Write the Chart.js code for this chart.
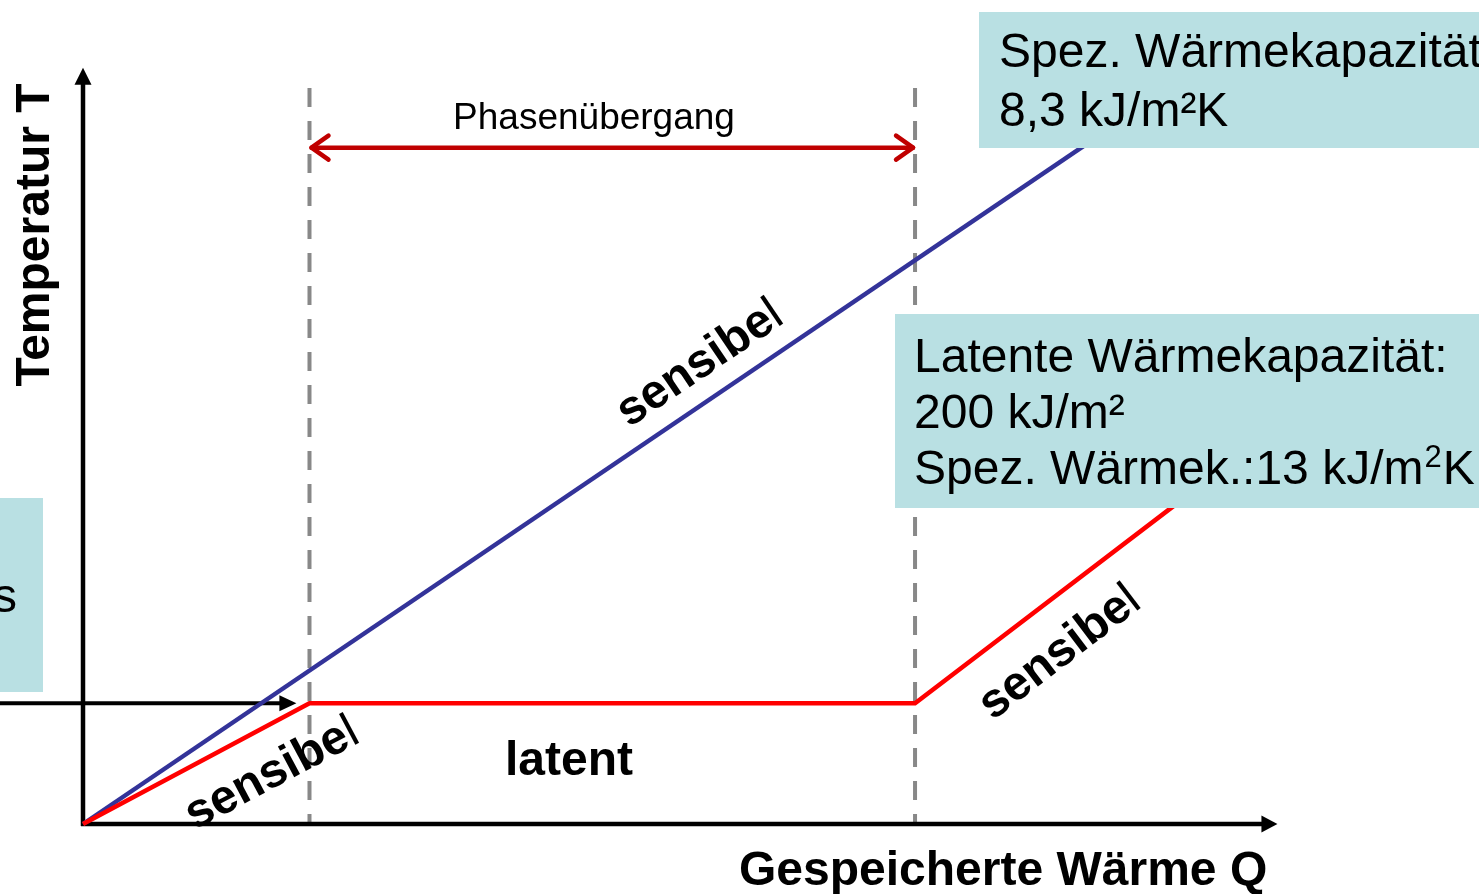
<!DOCTYPE html>
<html lang="de">
<head>
<meta charset="utf-8">
<title>Sensible und latente Wärmespeicherung</title>
<script src="https://cdn.jsdelivr.net/npm/chart.js@4/dist/chart.umd.min.js"></script>
<style>
  html, body { margin: 0; padding: 0; background: #ffffff; overflow: hidden; }
  canvas { display: block; }
</style>
</head>
<body>
<canvas id="chart" width="1479" height="894"></canvas>
<script>
// Stored heat Q (x) and temperature T (y), schematic units
const phaseBounds = [19, 69.8];        // Q where the phase change starts / ends
const pcmQ = [0, 19, 69.8, 95];        // latent storage material (red)
const pcmT = [0, 16, 16, 46.4];
const sensQ = [0, 90];                 // purely sensible storage (blue)
const sensT = [0, 96.4];
const meltT = 16;                      // phase change temperature
const phaseArrowT = 89.7;              // height of the "Phasenübergang" arrow
const dashTop = 97.6;                  // upper end of the dashed boundaries

// Text content
const axisLabelX = 'Gespeicherte Wärme Q';
const axisLabelY = 'Temperatur T';
const phaseLabel = 'Phasenübergang';
const latentLabel = 'latent';
const sensLabel = 'sensibel';
const boxSensLines = ['Spez. Wärmekapazität', '8,3 kJ/m²K'];
const boxLatLines = ['Latente Wärmekapazität:', '200 kJ/m²'];
const boxLatLast = ['Spez. Wärmek.:13 kJ/m', '2', 'K'];

const FONT = '"Liberation Sans", Arial, Helvetica, sans-serif';
const BOX = '#B9E0E3';

function pts(xs, ys) { return xs.map((x, i) => ({ x: x, y: ys[i] })); }

function line(ctx, x1, y1, x2, y2) {
  ctx.beginPath(); ctx.moveTo(x1, y1); ctx.lineTo(x2, y2); ctx.stroke();
}

function triangle(ctx, tipX, tipY, dirX, dirY, len, half) {
  const bx = tipX - dirX * len, by = tipY - dirY * len;
  const nx = -dirY, ny = dirX;
  ctx.beginPath();
  ctx.moveTo(tipX, tipY);
  ctx.lineTo(bx + nx * half, by + ny * half);
  ctx.lineTo(bx - nx * half, by - ny * half);
  ctx.closePath();
  ctx.fill();
}

// "sensibel" written along a segment: bold "sensibe" and a light final "l"
function slopeLabel(ctx, cx, cy, angle) {
  ctx.save();
  ctx.translate(cx, cy);
  ctx.rotate(angle);
  const bold = 'bold 48px ' + FONT, reg = '48px ' + FONT;
  const head = sensLabel.slice(0, -1), tail = sensLabel.slice(-1);
  ctx.font = bold; const w1 = ctx.measureText(head).width;
  ctx.font = reg;  const w2 = ctx.measureText(tail).width;
  const x0 = -(w1 + w2) / 2;
  ctx.fillStyle = '#000';
  ctx.textBaseline = 'middle';
  ctx.textAlign = 'left';
  ctx.font = bold; ctx.fillText(head, x0, 0);
  ctx.font = reg;  ctx.fillText(tail, x0 + w1, 0);
  ctx.restore();
}

const diagramPlugin = {
  id: 'diagram',
  beforeDatasetsDraw(chart) {
    const ctx = chart.ctx, xs = chart.scales.x, ys = chart.scales.y;
    const x0 = xs.getPixelForValue(0), y0 = ys.getPixelForValue(0);
    ctx.save();

    // dashed phase boundaries
    ctx.strokeStyle = '#888888';
    ctx.lineWidth = 4;
    ctx.setLineDash([19, 14]);
    phaseBounds.forEach(q => {
      const px = xs.getPixelForValue(q);
      line(ctx, px, ys.getPixelForValue(dashTop), px, y0);
    });
    ctx.setLineDash([]);

    // axes with arrow heads
    ctx.strokeStyle = '#000'; ctx.fillStyle = '#000'; ctx.lineWidth = 4.5;
    const xTip = xs.getPixelForValue(100.2), yTip = ys.getPixelForValue(100.3);
    line(ctx, x0, y0 + 2, x0, yTip + 12);
    triangle(ctx, x0, yTip, 0, -1, 17, 8.5);
    line(ctx, x0 - 2, y0, xTip - 12, y0);
    triangle(ctx, xTip, y0, 1, 0, 16, 8.5);

    // arrow marking the phase change temperature
    const ym = ys.getPixelForValue(meltT);
    const mTip = xs.getPixelForValue(17.9);
    ctx.lineWidth = 4;
    line(ctx, xs.getPixelForValue(xs.min), ym, mTip - 10, ym);
    triangle(ctx, mTip, ym, 1, 0, 17, 8);
    ctx.restore();
  },
  afterDatasetsDraw(chart) {
    const ctx = chart.ctx, xs = chart.scales.x, ys = chart.scales.y;
    ctx.save();

    // double arrow across the phase change
    const ya = ys.getPixelForValue(phaseArrowT);
    const xa1 = xs.getPixelForValue(phaseBounds[0]) + 2;
    const xa2 = xs.getPixelForValue(phaseBounds[1]) - 2;
    ctx.strokeStyle = '#C00000'; ctx.lineWidth = 4.5; ctx.lineCap = 'round'; ctx.lineJoin = 'round';
    line(ctx, xa1, ya, xa2, ya);
    ctx.beginPath();
    ctx.moveTo(xa1 + 17, ya - 12); ctx.lineTo(xa1, ya); ctx.lineTo(xa1 + 17, ya + 12);
    ctx.moveTo(xa2 - 17, ya - 12); ctx.lineTo(xa2, ya); ctx.lineTo(xa2 - 17, ya + 12);
    ctx.stroke();
    ctx.lineCap = 'butt';

    ctx.fillStyle = '#000';
    ctx.textAlign = 'center'; ctx.textBaseline = 'alphabetic';
    ctx.font = '37px ' + FONT;
    ctx.fillText(phaseLabel, 594, 129);

    // slope labels, rotated along their segments
    const segAngle = (qa, ta, qb, tb) => Math.atan2(
      ys.getPixelForValue(tb) - ys.getPixelForValue(ta),
      xs.getPixelForValue(qb) - xs.getPixelForValue(qa));
    slopeLabel(ctx, 272, 774, segAngle(pcmQ[0], pcmT[0], pcmQ[1], pcmT[1]));
    slopeLabel(ctx, 700, 364, segAngle(sensQ[0], sensT[0], sensQ[1], sensT[1]));
    slopeLabel(ctx, 1060, 653, segAngle(pcmQ[2], pcmT[2], pcmQ[3], pcmT[3]));

    ctx.font = 'bold 48px ' + FONT;
    ctx.textAlign = 'center';
    ctx.fillText(latentLabel, 569, 775);

    // axis titles
    ctx.textAlign = 'left';
    ctx.fillText(axisLabelX, 739, 885);
    ctx.save();
    ctx.translate(49, 235);
    ctx.rotate(-Math.PI / 2);
    ctx.textAlign = 'center';
    ctx.fillText(axisLabelY, 0, 0);
    ctx.restore();

    // info boxes
    ctx.fillStyle = BOX;
    ctx.fillRect(979, 12, 520, 136);
    ctx.fillRect(895, 314, 600, 194);
    ctx.fillRect(-10, 498, 53, 194);

    ctx.fillStyle = '#000';
    ctx.font = '48px ' + FONT;
    ctx.textAlign = 'left';
    ctx.fillText(boxSensLines[0], 999, 67);
    ctx.fillText(boxSensLines[1], 999, 126);
    ctx.fillText(boxLatLines[0], 914, 372);
    ctx.fillText(boxLatLines[1], 914, 428);
    let tx = 914;
    ctx.fillText(boxLatLast[0], tx, 484);
    tx += ctx.measureText(boxLatLast[0]).width;
    ctx.font = '31px ' + FONT;
    ctx.fillText(boxLatLast[1], tx + 1, 467);
    tx += ctx.measureText(boxLatLast[1]).width + 2;
    ctx.font = '48px ' + FONT;
    ctx.fillText(boxLatLast[2], tx, 484);
    ctx.textAlign = 'right';
    ctx.fillText('s', 17, 612);
    ctx.restore();
  }
};

new Chart(document.getElementById('chart'), {
  type: 'line',
  data: {
    datasets: [
      { label: 'Latentwärmespeicher', data: pts(pcmQ, pcmT), borderColor: '#FF0000',
        borderWidth: 4.5, pointRadius: 0, tension: 0, fill: false },
      { label: 'Sensibler Speicher', data: pts(sensQ, sensT), borderColor: '#333399',
        borderWidth: 4.5, pointRadius: 0, tension: 0, fill: false }
    ]
  },
  options: {
    responsive: false,
    animation: false,
    events: [],
    layout: { padding: 0 },
    plugins: { legend: { display: false }, tooltip: { enabled: false } },
    scales: {
      x: { type: 'linear', min: -6.963, max: 117.11, display: false },
      y: { type: 'linear', min: -9.284, max: 109.28, display: false }
    }
  },
  plugins: [diagramPlugin]
});
</script>
</body>
</html>
